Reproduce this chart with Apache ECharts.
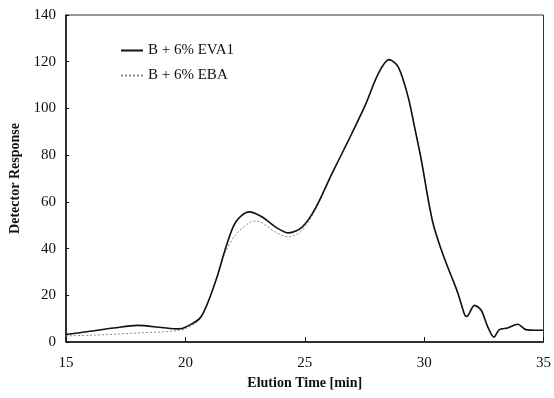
<!DOCTYPE html>
<html><head><meta charset="utf-8">
<script src="https://cdn.jsdelivr.net/npm/echarts@6/dist/echarts.min.js"></script>
<style>html,body{margin:0;padding:0;background:#fff}#c{width:554px;height:398px}</style>
</head><body><div id="c"></div>
<script>
const evaTime  = [15,16,17,18,19,19.7,20,20.65,21.28,21.7,22.11,22.67,23.22,23.78,24.33,24.89,25.44,26.14,26.83,27.53,28.08,28.53,28.92,29.33,29.6,29.89,30.17,30.38,30.65,30.93,31.21,31.42,31.55,31.7,31.78,32.11,32.39,32.67,32.92,33.15,33.5,33.92,34.26,34.75,35];
const evaValue = [3.2,4.6,6.0,7.1,6.2,5.6,6.3,10.7,26.4,40.7,51.4,55.7,53.5,49.2,46.7,49.2,57.1,72.1,86.3,101.3,114.9,120.9,117.7,104.9,92,77.5,61,50.5,41.5,33.6,26.4,20.7,16.4,11.6,10.9,15.7,13.6,6.4,2.1,5.3,6,7.6,5.3,5,5];
const ebaTime  = [15,16,17,18,19,19.7,20,20.65,21.28,21.7,22.11,22.67,22.95,23.22,23.78,24.33,24.89,25.44,26.14,26.83,27.53,28.08,28.53,28.92,29.33,29.6,29.89,30.17,30.38,30.65,30.93,31.21,31.42,31.55,31.7,31.78,32.11,32.39,32.67,32.92,33.15,33.5,33.92,34.26,34.75,35];
const ebaValue = [2.6,2.9,3.3,3.9,4.3,4.9,5.6,10.3,26.4,39,46,51,51.8,51,47,45,47.8,56.5,72.1,86.3,101.3,114.9,120.9,117.7,104.9,92,77.5,61,50.5,41.5,33.6,26.4,20.7,16.4,11.6,10.9,15.7,13.6,6.4,2.1,5.3,6,7.6,5.3,5,5];
const xTicks = [15,20,25,30,35];
const yTicks = [0,20,40,60,80,100,120,140];

const pair = (xs, ys) => xs.map((x, i) => [x, ys[i]]);
const font = '"Liberation Serif", "Times New Roman", serif';
const chart = echarts.init(document.getElementById('c'));
chart.setOption({
  animation: false,
  grid: {left: 66, right: 8, top: 15, bottom: 56, show: true, borderColor: '#333', borderWidth: 1},
  legend: {
    orient: 'vertical', left: 115, top: 38, itemGap: 10, itemWidth: 22, itemHeight: 10,
    itemStyle: {opacity: 0},
    textStyle: {fontFamily: font, fontSize: 15, color: '#111'},
    data: ['B + 6% EVA1', 'B + 6% EBA']
  },
  xAxis: {
    type: 'value', min: xTicks[0], max: xTicks[xTicks.length-1], interval: 5,
    name: 'Elution Time [min]', nameLocation: 'middle', nameGap: 34,
    nameTextStyle: {fontFamily: font, fontSize: 14, fontWeight: 'bold', color: '#111'},
    axisLine: {lineStyle: {color: '#111', width: 1.5}},
    axisTick: {inside: true, length: 5, lineStyle: {color: '#111'}},
    axisLabel: {fontFamily: font, fontSize: 15, color: '#111', margin: 14},
    splitLine: {show: false}
  },
  yAxis: {
    type: 'value', min: yTicks[0], max: yTicks[yTicks.length-1], interval: 20,
    name: 'Detector Response', nameLocation: 'middle', nameGap: 40,
    nameTextStyle: {fontFamily: font, fontSize: 14, fontWeight: 'bold', color: '#111'},
    axisLine: {show: true, lineStyle: {color: '#111', width: 1.5}},
    axisTick: {show: true, inside: true, length: 3, lineStyle: {color: '#111'}},
    axisLabel: {fontFamily: font, fontSize: 15, color: '#111', margin: 10},
    splitLine: {show: false}
  },
  series: [
    {name: 'B + 6% EBA', type: 'line', smooth: 0.3, symbol: 'none', z: 2,
     data: pair(ebaTime, ebaValue), lineStyle: {color: '#888', width: 1, type: [2, 2]}, itemStyle: {color: '#888'}},
    {name: 'B + 6% EVA1', type: 'line', smooth: 0.3, symbol: 'none', z: 3,
     data: pair(evaTime, evaValue), lineStyle: {color: '#111', width: 1.6}, itemStyle: {color: '#111'}}
  ]
});
</script></body></html>
